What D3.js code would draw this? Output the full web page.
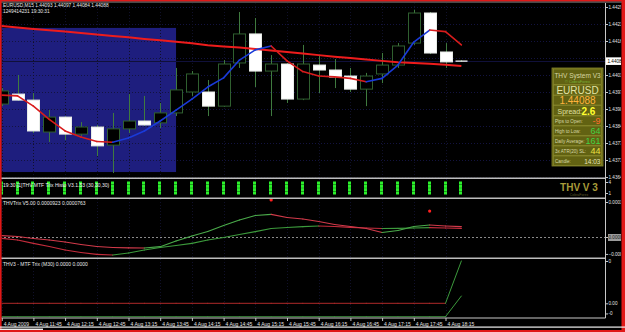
<!DOCTYPE html>
<html><head><meta charset="utf-8">
<script src="https://cdn.jsdelivr.net/npm/d3@7"></script>
<style>
html,body{margin:0;padding:0;background:#000;}
svg{display:block;}
text{font-family:"Liberation Sans",Arial,sans-serif;}
</style></head><body>
<svg id="c" width="625" height="332"></svg>
<script>
// ---------------- DATA ----------------
const times = ["11:15","11:30","11:45","12:00","12:15","12:30","12:45","13:00","13:15","13:30","13:45","14:00","14:15","14:30","14:45","15:00","15:15","15:30","15:45","16:00","16:15","16:30","16:45","17:00","17:15","17:30","17:45","18:00","18:15","18:30"];
const open  = [1.43924,1.43962,1.43939,1.43817,1.43874,1.43809,1.43836,1.43767,1.43829,1.43859,1.43852,1.43890,1.43970,1.43970,1.43916,1.44081,1.44192,1.44050,1.44077,1.43943,1.44073,1.44054,1.44031,1.43981,1.44039,1.44073,1.44157,1.44272,1.44123,1.44088];
const high  = [1.43985,1.44035,1.43966,1.43901,1.43878,1.43855,1.43844,1.43890,1.43962,1.43955,1.43928,1.44062,1.44050,1.44016,1.44092,1.44276,1.44253,1.44111,1.44081,1.44150,1.44111,1.44096,1.44062,1.44043,1.44119,1.44157,1.44284,1.44276,1.44157,1.44092];
const low   = [1.43916,1.43936,1.43813,1.43779,1.43786,1.43802,1.43725,1.43660,1.43813,1.43840,1.43832,1.43878,1.43955,1.43878,1.43913,1.44062,1.43989,1.43878,1.43928,1.43939,1.43966,1.43985,1.43970,1.43916,1.44004,1.44062,1.44150,1.44115,1.44062,1.44085];
const close = [1.43974,1.43939,1.43821,1.43874,1.43809,1.43836,1.43764,1.43829,1.43859,1.43844,1.43890,1.43978,1.44039,1.43916,1.44077,1.44192,1.44050,1.44077,1.43943,1.44077,1.44054,1.44027,1.43981,1.44031,1.44073,1.44146,1.44272,1.44119,1.44085,1.44088];
const maFast = [1.43958,1.43955,1.43916,1.43865,1.43821,1.43798,1.43781,1.43778,1.43794,1.43821,1.43859,1.43901,1.43943,1.43989,1.44024,1.44092,1.44131,1.44146,1.44089,1.44048,1.44031,1.44028,1.44022,1.44009,1.44022,1.44073,1.44161,1.44207,1.44201,1.44150];
const maSlow = [1.44222,1.44217,1.44211,1.44206,1.44201,1.44196,1.44190,1.44184,1.44179,1.44173,1.44168,1.44162,1.44156,1.44149,1.44144,1.44140,1.44134,1.44129,1.44123,1.44117,1.44111,1.44105,1.44100,1.44094,1.44089,1.44084,1.44081,1.44078,1.44074,1.44069];
const zoneEnd = "14:00", zoneTop = 1.44215, zoneBottom = 1.43664;
const bid = 1.44088;
const priceTicks = [1.44295,1.44230,1.44165,1.44100,1.44035,1.43970,1.43905,1.43840,1.43775,1.43710,1.43645];
const timeTicks = ["11:15","11:45","12:15","12:45","13:15","13:45","14:15","14:45","15:15","15:45","16:15","16:45","17:15","17:45","18:15"];
const timeTickLabels = ["4 Aug 2009","4 Aug 11:45","4 Aug 12:15","4 Aug 12:45","4 Aug 13:15","4 Aug 13:45","4 Aug 14:15","4 Aug 14:45","4 Aug 15:15","4 Aug 15:45","4 Aug 16:15","4 Aug 16:45","4 Aug 17:15","4 Aug 17:45","4 Aug 18:15"];

const histoLevels = [1,2,3,4];
const histoUp = [1,1,1,1,1,1,1,1,1,1,1,1,1,1,1,1,1,1,1,1,1,1,1,1,1,1,1,1,1,1];
const histoTicks = [4,1];

const trixFast = [0.0000115,0.0000044,-0.0000133,-0.0000266,-0.0000443,-0.0000664,-0.0000841,-0.0000930,-0.0000957,-0.0000974,-0.0000859,-0.0000354,0.0000089,0.0000487,0.0001019,0.0001506,0.0001904,0.0002011,0.0001727,0.0001594,0.0001373,0.0001107,0.0000930,0.0000753,0.0000399,0.0000576,0.0000930,0.0001063,0.0000974,0.0000923];
const trixSlow = [-0.0000115,-0.0000266,-0.0000558,-0.0000841,-0.0001151,-0.0001373,-0.0001532,-0.0001594,-0.0001417,-0.0001151,-0.0000930,-0.0000753,-0.0000558,-0.0000266,-0.0000044,0.0000221,0.0000469,0.0000753,0.0000841,0.0000912,0.0000974,0.0000930,0.0000859,0.0000797,0.0000753,0.0000771,0.0000797,0.0000833,0.0000797,0.0000763];
const trixSignalTimes = ["15:30","18:00"];
const trixSignalValues = [0.000328,0.00023];
const trixTicks = [0.00031,0,-0.00015];

const m30A = [0,0,0,0,0,0,0,0,0,0,0,0,0,0,0,0,0,0,0,0,0,0,0,0,0,0,0,0,0,0.00005];
const m30B = [-0.0000158,-0.0000158,-0.0000158,-0.0000158,-0.0000158,-0.0000158,-0.0000158,-0.0000158,-0.0000158,-0.0000158,-0.0000158,-0.0000158,-0.0000158,-0.0000158,-0.0000158,-0.0000158,-0.0000158,-0.0000158,-0.0000158,-0.0000158,-0.0000158,-0.0000158,-0.0000158,-0.0000158,-0.0000158,-0.0000158,-0.0000158,-0.0000158,-0.0000158,0.0000086];
const m30Ticks = [0.00005,0,-0.000012];
const m30TickLabels = ["0","0.00","-0"];

const infoRows = [
  {label:"Pips to Open:", value:"-9", color:"#ff6a2a"},
  {label:"High to Low:", value:"64", color:"#44d044"},
  {label:"Daily Average:", value:"161", color:"#44d044"},
  {label:"3x ATR(20) SL:", value:"44", color:"#e8e040"},
  {label:"Candle:", value:"14:03", color:"#e2e2bc"}
];

// ---------------- LAYOUT ----------------
const svg = d3.select("#c");
const axisX = 605.5;
const P = {
  main:{top:3.5, bot:177.5},
  hist:{top:179, bot:197.5},
  trix:{top:199, bot:257.5},
  m30:{top:259, bot:317.5}
};
const x = d3.scalePoint().domain(times).range([1.7, 461.35]);
const yP = d3.scaleLinear().domain([1.43645,1.44295]).range([177,7]);
const yH = d3.scaleBand().domain(histoLevels).range([194.5,181.5]).paddingInner(0.08);
const yT = d3.scaleLinear().domain([0,0.00031]).range([237,202]);
const yM = d3.scaleLinear().domain([0,0.00005]).range([303.3,261]);

svg.append("rect").attr("width",625).attr("height",332).attr("fill","#000");
const defs = svg.append("defs");
Object.entries(P).forEach(([k,p])=>{
  defs.append("clipPath").attr("id","clip-"+k).append("rect")
    .attr("x",1.5).attr("y",p.top).attr("width",axisX-1.5).attr("height",p.bot-p.top);
});
const panel = k => svg.append("g").attr("clip-path",`url(#clip-${k})`);

// ---------- MAIN PANEL ----------
const gm = panel("main");
gm.append("rect")
  .attr("x",0).attr("y",yP(zoneTop))
  .attr("width",x(zoneEnd)).attr("height",yP(zoneBottom)-yP(zoneTop))
  .attr("fill","#1e1e7e");
// grid
gm.selectAll(".hg").data(priceTicks).join("line")
  .attr("x1",0).attr("x2",axisX).attr("y1",d=>Math.round(yP(d))+0.5).attr("y2",d=>Math.round(yP(d))+0.5)
  .attr("stroke","#131340").attr("stroke-dasharray","1,2");
gm.selectAll(".vg").data(timeTicks).join("line")
  .attr("x1",d=>Math.round(x(d))+0.5).attr("x2",d=>Math.round(x(d))+0.5).attr("y1",0).attr("y2",180)
  .attr("stroke","#10102a").attr("stroke-dasharray","1,2");
// bid line
gm.append("line").attr("x1",0).attr("x2",axisX)
  .attr("y1",Math.round(yP(bid))+0.5).attr("y2",Math.round(yP(bid))+0.5)
  .attr("stroke","#10103a");

// candles
const candles = times.map((t,i)=>({t,o:open[i],h:high[i],l:low[i],c:close[i]}));
const cg = gm.append("g");
cg.selectAll(".wick").data(candles).join("line")
  .attr("x1",d=>Math.round(x(d.t))+0.5).attr("x2",d=>Math.round(x(d.t))+0.5)
  .attr("y1",d=>yP(d.h)).attr("y2",d=>yP(d.l))
  .attr("stroke","#3f7a3f").attr("stroke-width",1);
cg.selectAll(".body").data(candles.filter(d=>Math.abs(d.c-d.o)>0.000005)).join("rect")
  .attr("x",d=>Math.round(x(d.t))-5.5).attr("width",12)
  .attr("y",d=>yP(Math.max(d.o,d.c))).attr("height",d=>Math.max(1,yP(Math.min(d.o,d.c))-yP(Math.max(d.o,d.c))))
  .attr("fill",d=>d.c>d.o?"#000":"#fff")
  .attr("stroke",d=>d.c>d.o?"#2f5f2f":"#e8ece8").attr("stroke-width",1);
cg.selectAll(".doji").data(candles.filter(d=>Math.abs(d.c-d.o)<=0.000005)).join("line")
  .attr("x1",d=>Math.round(x(d.t))-5.5).attr("x2",d=>Math.round(x(d.t))+6.5)
  .attr("y1",d=>yP(d.c)).attr("y2",d=>yP(d.c))
  .attr("stroke","#fff").attr("stroke-width",1.2);

// slow MA
gm.append("path").datum(maSlow)
  .attr("d",d3.line().x((d,i)=>x(times[i])).y(d=>yP(d)))
  .attr("fill","none").attr("stroke","#ee1c1c").attr("stroke-width",2);
gm.append("line").attr("x1",0).attr("x2",x(times[0])).attr("y1",yP(maSlow[0])-0.3).attr("y2",yP(maSlow[0]))
  .attr("stroke","#ee1c1c").attr("stroke-width",2);
// fast MA colored by slope
function slopeSegments(g, vals, ys, up, down, flat, w){
  for(let i=0;i<vals.length-1;i++){
    const c = vals[i+1]>vals[i]?up:(vals[i+1]<vals[i]?down:flat);
    g.append("line").attr("x1",x(times[i])).attr("y1",ys(vals[i]))
      .attr("x2",x(times[i+1])).attr("y2",ys(vals[i+1]))
      .attr("stroke",c).attr("stroke-width",w).attr("stroke-linecap","round");
  }
}
slopeSegments(gm, maFast, yP, "#1a3ad8", "#d81c1c", "#d81c1c", 1.6);

// ---------- HISTO PANEL ----------
const gh = panel("hist");
gh.selectAll(".vg").data(timeTicks).join("line")
  .attr("x1",d=>Math.round(x(d))+0.5).attr("x2",d=>Math.round(x(d))+0.5).attr("y1",P.hist.top).attr("y2",P.hist.bot)
  .attr("stroke","#10102a").attr("stroke-dasharray","1,2");
const hcells = [];
times.forEach((t,i)=>histoLevels.forEach(l=>hcells.push({t,l,up:histoUp[i]})));
gh.selectAll(".hb").data(hcells).join("rect")
  .attr("x",d=>Math.round(x(d.t))-2).attr("width",3)
  .attr("y",d=>yH(d.l)).attr("height",yH.bandwidth())
  .attr("fill",d=>d.up?"#2cf02c":"#f02828");
gh.append("text").attr("x",3).attr("y",186.5).attr("fill","#f0f0f0").attr("font-size",5)
  .text("19:30 [1]THV MTF Trix Histo V3.1.53 (30,30,30)");
svg.append("text").attr("x",579).attr("y",191).attr("text-anchor","middle")
  .attr("fill","#a89c3a").attr("font-size",10).attr("font-weight","bold").text("THV V 3");
svg.append("text").attr("x",579).attr("y",195.5).attr("text-anchor","middle")
  .attr("fill","#5e5a2a").attr("font-size",3.5).text("CobraForex");

// ---------- TRIX PANEL ----------
const gt = panel("trix");
gt.selectAll(".vg").data(timeTicks).join("line")
  .attr("x1",d=>Math.round(x(d))+0.5).attr("x2",d=>Math.round(x(d))+0.5).attr("y1",P.trix.top).attr("y2",P.trix.bot)
  .attr("stroke","#10102a").attr("stroke-dasharray","1,2");
gt.append("line").attr("x1",0).attr("x2",axisX).attr("y1",Math.round(yT(0))+0.5).attr("y2",Math.round(yT(0))+0.5)
  .attr("stroke","#8a8a8a").attr("stroke-dasharray","2,2");
slopeSegments(gt, trixSlow, yT, "#3c9a3c", "#c42c3c", "#c42c3c", 1.2);
slopeSegments(gt, trixFast, yT, "#4aaa4a", "#d23a4a", "#d23a4a", 1.2);
gt.selectAll(".sig").data(trixSignalTimes).join("circle")
  .attr("cx",d=>x(d)).attr("cy",(d,i)=>yT(trixSignalValues[i])).attr("r",1.6).attr("fill","#ff2020");
gt.append("text").attr("x",3).attr("y",205).attr("fill","#e8e8e8").attr("font-size",5)
  .text("THVTrix V5.00 0.0000923 0.0000763");

// ---------- M30 PANEL ----------
const g3 = panel("m30");
g3.selectAll(".vg").data(timeTicks).join("line")
  .attr("x1",d=>Math.round(x(d))+0.5).attr("x2",d=>Math.round(x(d))+0.5).attr("y1",P.m30.top).attr("y2",P.m30.bot)
  .attr("stroke","#10102a").attr("stroke-dasharray","1,2");
slopeSegments(g3, m30A, yM, "#3c9a3c", "#c42c3c", "#b02a2a", 1);
slopeSegments(g3, m30B, yM, "#3c9a3c", "#c42c3c", "#3c8a3c", 1);
g3.append("text").attr("x",3).attr("y",265.5).attr("fill","#e8e8e8").attr("font-size",5)
  .text("THV3 - MTF Trix (M30) 0.0000 0.0000");

// ---------- SEPARATORS & AXES ----------
[P.hist.top-0.8, P.trix.top-0.8, P.m30.top-0.8].forEach(yy=>{
  svg.append("line").attr("x1",0).attr("x2",axisX).attr("y1",yy).attr("y2",yy)
    .attr("stroke","#bdbdbd").attr("stroke-width",1.5);
});
svg.append("line").attr("x1",0).attr("x2",axisX).attr("y1",318).attr("y2",318).attr("stroke","#c8c8c8").attr("stroke-width",1);
svg.append("line").attr("x1",axisX).attr("x2",axisX).attr("y1",3).attr("y2",318).attr("stroke","#c8c8c8").attr("stroke-width",1);

function styleAxis(g){
  g.select(".domain").remove();
  g.selectAll(".tick line").attr("stroke","#c8c8c8");
  g.selectAll(".tick text").attr("fill","#e4e4e4").attr("font-size",4.6)
    .attr("font-family","'Liberation Sans',Arial,sans-serif");
}
defs.append("clipPath").attr("id","clip-axis").append("rect").attr("x",axisX).attr("y",0).attr("width",621-axisX).attr("height",332);
const axG = svg.append("g").attr("clip-path","url(#clip-axis)");
axG.append("g").attr("transform",`translate(${axisX},0)`)
  .call(d3.axisRight(yP).tickValues(priceTicks).tickSize(2.5).tickPadding(0.5).tickFormat(d=>d===1.44100?"":d3.format(".5f")(d)))
  .call(styleAxis);
axG.append("g").attr("transform",`translate(${axisX},0)`)
  .call(d3.axisRight(d3.scaleLinear().domain([1,4]).range([193,182])).tickValues(histoTicks).tickSize(2.5).tickPadding(0.5).tickFormat(d3.format("d")))
  .call(styleAxis);
const tAx = axG.append("g").attr("transform",`translate(${axisX},0)`)
  .call(d3.axisRight(yT).tickValues(trixTicks).tickSize(2.5).tickPadding(0.5).tickFormat(d3.format(".5f")))
  .call(styleAxis);
tAx.selectAll(".tick").filter(d=>d===0).insert("rect","text").attr("x",2.5).attr("y",-3.5).attr("width",16).attr("height",7).attr("fill","#9c9c9c");
tAx.selectAll(".tick").filter(d=>d===0).select("text").attr("fill","#1a1a1a");
axG.append("g").attr("transform",`translate(${axisX},0)`)
  .call(d3.axisRight(yM).tickValues(m30Ticks).tickSize(2.5).tickPadding(0.5).tickFormat((d,i)=>m30TickLabels[i]))
  .call(styleAxis);
// current price tag
axG.append("rect").attr("x",axisX+0.5).attr("y",yP(bid)-3.8).attr("width",17).attr("height",7.6).attr("fill","#fff");
axG.append("text").attr("x",axisX+2).attr("y",yP(bid)+1.7).attr("fill","#000").attr("font-size",4.6).text(d3.format(".5f")(bid));

// time axis
const xAx = svg.append("g").attr("transform","translate(0,318)")
  .call(d3.axisBottom(x).tickValues(timeTicks).tickSize(3).tickPadding(1).tickFormat((d,i)=>timeTickLabels[i]));
xAx.select(".domain").remove();
xAx.selectAll(".tick line").attr("stroke","#c8c8c8");
xAx.selectAll(".tick text").attr("fill","#e4e4e4").attr("font-size",5).attr("text-anchor","start").attr("dx",1.5)
  .attr("font-family","'Liberation Sans',Arial,sans-serif");

// header text
svg.append("text").attr("x",3).attr("y",7).attr("fill","#e8e8e8").attr("font-size",4.8)
  .text("EURUSD,M15  1.44093 1.44097 1.44084 1.44088");
svg.append("text").attr("x",3).attr("y",13).attr("fill","#e8e8e8").attr("font-size",4.8)
  .text("1249414231 19:30:31");

// ---------- INFO BOX ----------
const ib = svg.append("g");
ib.append("rect").attr("x",552).attr("y",68).attr("width",51).attr("height",98).attr("fill","#5e5e0c").attr("stroke","#86862c").attr("stroke-width",0.8);
const rowsY = [[69,84.5],[85,95],[95.5,105],[105.5,115.5],[116,125.5],[126,135.5],[136,145.5],[146,155.5],[156,165.5]];
ib.selectAll(".rr").data(rowsY).join("rect")
  .attr("x",553.5).attr("width",48).attr("y",d=>d[0]).attr("height",d=>d[1]-d[0])
  .attr("fill","#626212").attr("stroke","#8a8a30").attr("stroke-width",0.7);
ib.append("text").attr("x",577.5).attr("y",77.5).attr("text-anchor","middle").attr("fill","#d6d6a2").attr("font-size",6.5).text("THV System V3");
ib.append("text").attr("x",577.5).attr("y",83).attr("text-anchor","middle").attr("fill","#7ab43a").attr("font-size",4).text("© CobraForex");
ib.append("text").attr("x",577.5).attr("y",94).attr("text-anchor","middle").attr("fill","#e4e4a6").attr("font-size",10).text("EURUSD");
ib.append("text").attr("x",577.5).attr("y",104).attr("text-anchor","middle").attr("fill","#ffb23c").attr("font-size",10).text(d3.format(".5f")(bid));
ib.append("text").attr("x",557.5).attr("y",114).attr("fill","#e0e0a2").attr("font-size",7).text("Spread:");
ib.append("text").attr("x",581.5).attr("y",114.5).attr("fill","#ffff30").attr("font-size",10).attr("font-weight","bold").text("2.6");
ib.selectAll(".lab").data(infoRows).join("text")
  .attr("x",555).attr("y",(d,i)=>rowsY[4+i][0]+6.5).attr("fill","#d8d8a8").attr("font-size",4.6).text(d=>d.label);
ib.selectAll(".val").data(infoRows).join("text")
  .attr("x",600.5).attr("y",(d,i)=>rowsY[4+i][0]+7.8).attr("text-anchor","end").attr("fill",d=>d.color)
  .attr("font-size",(d,i)=>i===4?6.5:9).text(d=>d.value);

// ---------- WINDOW FRAME ----------
svg.append("rect").attr("x",0).attr("y",0).attr("width",625).attr("height",1.6).attr("fill","#e01818");
svg.append("rect").attr("x",0).attr("y",1.6).attr("width",625).attr("height",1).attr("fill","#7a7a7a");
svg.append("rect").attr("x",0).attr("y",0).attr("width",1.6).attr("height",332).attr("fill","#e01818");
svg.append("rect").attr("x",621.5).attr("y",0).attr("width",3.5).attr("height",332).attr("fill","#e01818");
svg.append("rect").attr("x",0).attr("y",326.5).attr("width",625).attr("height",1.2).attr("fill","#f0f0f0");
svg.append("rect").attr("x",0).attr("y",328.6).attr("width",43).attr("height",1.4).attr("fill","#f0f0f0");
svg.append("rect").attr("x",0).attr("y",330).attr("width",625).attr("height",2).attr("fill","#e01818");
</script>
</body></html>
